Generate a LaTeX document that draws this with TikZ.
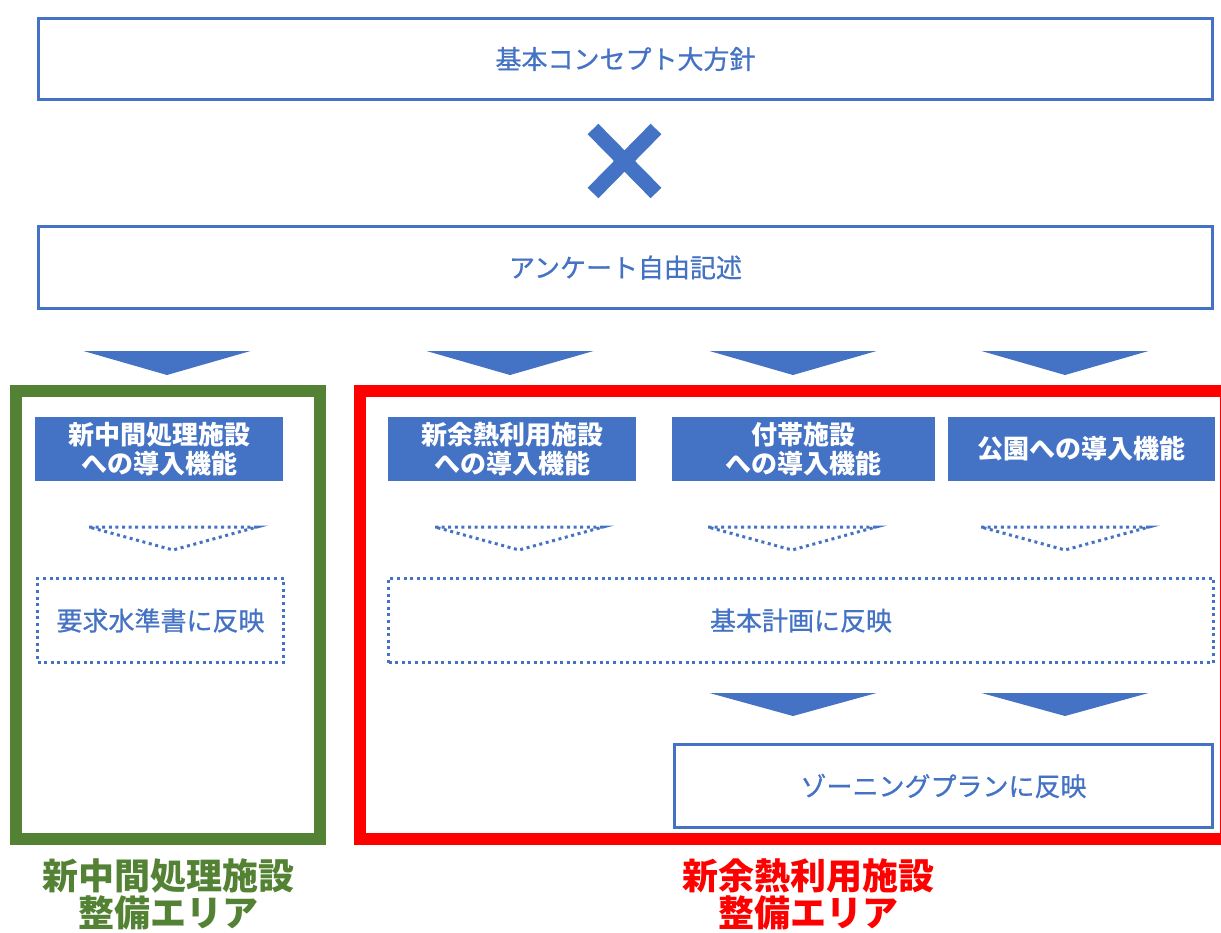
\documentclass[tikz,border=0pt]{standalone}
\usepackage{fontspec}
\newfontfamily\jp{Noto Sans CJK JP}
\newfontfamily\jpm[FakeBold=0.7]{Noto Sans CJK JP}
\definecolor{mblue}{HTML}{4472C4}
\definecolor{mgreen}{HTML}{548235}
\definecolor{mred}{HTML}{FF0000}
\tikzset{
  outbox/.style={draw=mblue, line width=3pt, fill=white, text=mblue, font=\jpm\fontsize{26}{30}\selectfont, inner sep=0pt},
  dotbox/.style={draw=mblue, line width=3pt, dash pattern=on 3pt off 3.6pt, text=mblue, font=\jpm\fontsize{26}{30}\selectfont, inner sep=0pt},
  headbox/.style={fill=mblue, text=white, font=\jp\bfseries\fontsize{26}{29}\selectfont, align=center, inner sep=0pt, minimum height=64pt},
  solidtri/.style={fill=mblue},
  dottri/.style={draw=mblue, line width=3pt, dash pattern=on 3pt off 3.6pt},
  arealabel/.style={font=\jp\bfseries\fontsize{36}{37}\selectfont, align=center, inner sep=0pt},
}
\newcommand{\soltri}[3]{\fill[solidtri] (#1-83.5,#2) -- (#1+83.5,#2) -- (#1,#3) -- cycle;}
\newcommand{\dtri}[3]{\draw[dottri] (#1-84,#2) -- (#1+84,#2) -- (#1,#3) -- cycle;}
\begin{document}
\begin{tikzpicture}[x=1pt,y=-1pt]
\useasboundingbox (0,0) rectangle (1221,932);
\clip (0,0) rectangle (1221,932);
\fill[white] (0,0) rectangle (1221,932);
% top boxes
\node[outbox, minimum width=1174pt, minimum height=81pt] (concept) at (625.5,59) {基本コンセプト大方針};
\coordinate (c1) at (593,129); \coordinate (c2) at (656,193);
\coordinate (c3) at (656,129); \coordinate (c4) at (593,193);
\draw[mblue, line width=15pt] (c1) -- (c2) (c3) -- (c4);
\node[outbox, minimum width=1174pt, minimum height=82pt] (survey) at (625.5,267.5) {アンケート自由記述};
% arrows under survey
\soltri{167}{351}{375}
\soltri{510}{351}{375}
\soltri{793}{351}{375}
\soltri{1065}{351}{375}
% area frames
\draw[mgreen, line width=12pt] (16,391) rectangle (320,839);
\draw[mred, line width=12pt] (360,391) rectangle (1226,839);
% headers
\node[headbox, minimum width=248pt] (h1) at (159,449) {新中間処理施設\\への導入機能};
\node[headbox, minimum width=248pt] (h2) at (512,449) {新余熱利用施設\\への導入機能};
\node[headbox, minimum width=263pt] (h3) at (803.5,449) {付帯施設\\への導入機能};
\node[headbox, minimum width=267pt] (h4) at (1081.5,449) {公園への導入機能};
% dotted arrows
\dtri{173}{527}{550}
\dtri{519}{527}{550}
\dtri{792}{527}{550}
\dtri{1065}{527}{550}
% dotted boxes
\node[dotbox, minimum width=246pt, minimum height=84pt] (req) at (160.5,620.5) {要求水準書に反映};
\node[dotbox, minimum width=825pt, minimum height=84pt] (plan) at (801,620.5) {基本計画に反映};
% arrows to zoning
\soltri{793}{693}{716}
\soltri{1065}{693}{716}
\node[outbox, minimum width=538pt, minimum height=83pt] (zoning) at (943.5,786) {ゾーニングプランに反映};
% labels
\node[arealabel, text=mgreen] (lg) at (168,894) {新中間処理施設\\整備エリア};
\node[arealabel, text=mred] (lr) at (808,894) {新余熱利用施設\\整備エリア};
\end{tikzpicture}
\end{document}
